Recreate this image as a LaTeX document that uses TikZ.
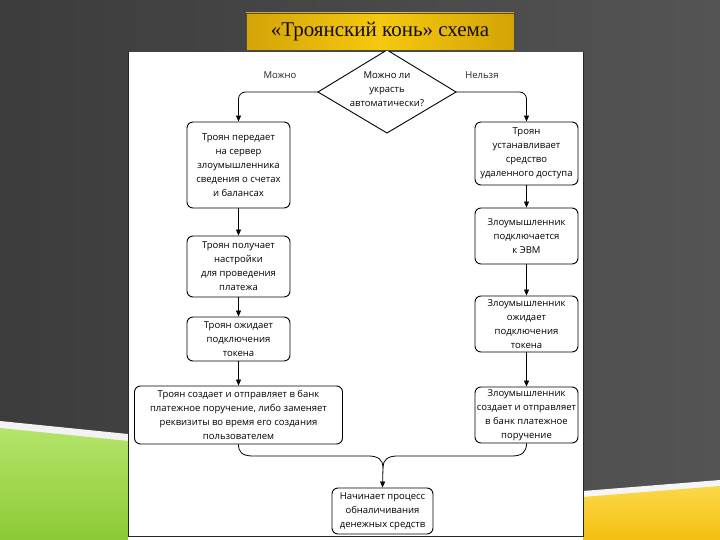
\documentclass[tikz,border=0pt]{standalone}
\usepackage{fontspec}
\setmainfont{Liberation Serif}
\newfontfamily\boxfont{Open Sans}
\usetikzlibrary{shapes.geometric,arrows.meta}
\definecolor{bgdark}{HTML}{3C3C3C}
\definecolor{bglight}{HTML}{545454}
\definecolor{gold}{HTML}{F5C90F}
\definecolor{golddark}{HTML}{D4A306}
\definecolor{greenA}{HTML}{B4E46A}
\definecolor{greenB}{HTML}{8CCB35}
\definecolor{yelA}{HTML}{FBD84A}
\definecolor{yelB}{HTML}{F4C010}
\begin{document}
\begin{tikzpicture}[x=1pt,y=-1pt,
  box/.style={draw=black, line width=0.9pt, rounded corners=6pt, fill=white, align=center,
    font=\boxfont\fontsize{9.5}{14}\selectfont, inner sep=0pt, text=black},
  lbl/.style={font=\boxfont\fontsize{9.5}{12}\selectfont, text=black!85},
  arr/.style={-{Triangle[length=6pt,width=5pt]}, line width=0.8pt},
  conn/.style={line width=0.8pt}]
\useasboundingbox (0,0) rectangle (720,540);
% background
\shade[left color=bgdark, right color=bglight] (0,0) rectangle (720,540);
% green swoosh
\fill[white!90!gray] (0,421) -- (128,434) -- (128,442) -- (0,429) -- cycle;
\shade[top color=greenA, bottom color=greenB] (0,428) -- (128,441) -- (128,540) -- (0,540) -- cycle;
% yellow swoosh
\fill[white!92!gray] (583,491) -- (720,480) -- (720,487) -- (583,498) -- cycle;
\shade[top color=yelA, bottom color=yelB] (583,497) -- (720,486) -- (720,540) -- (583,540) -- cycle;
% panel
\fill[white] (128,52) rectangle (583,540);
\draw[black!85, line width=0.7pt] (128,52) -- (128,536) -- (583,536) -- (583,52);
% decision
\coordinate (diaN) at (387,50);
\coordinate (diaW) at (318,92);
\coordinate (diaS) at (387,133);
\coordinate (diaE) at (456,92);
\draw[line width=0.9pt, fill=white] (diaN) -- (diaE) -- (diaS) -- (diaW) -- cycle;
\node[align=center, font=\boxfont\fontsize{9.5}{14}\selectfont, inner sep=0pt] (dia) at (387,89)
  {Можно ли\\украсть\\автоматически?};
\node[lbl] (yes) at (280,75) {Можно};
\node[lbl] (no) at (482,75) {Нельзя};
% left column
\node[box, minimum width=103pt, minimum height=86pt] (b1) at (238.5,165)
  {Троян передает\\на сервер\\злоумышленника\\сведения о счетах\\и балансах};
\node[box, minimum width=103pt, minimum height=61pt] (b2) at (238.5,266.5)
  {Троян получает\\настройки\\для проведения\\платежа};
\node[box, minimum width=103pt, minimum height=44pt] (b3) at (238.5,339)
  {Троян ожидает\\подключения\\токена};
\node[box, minimum width=208pt, minimum height=58pt] (b4) at (238.5,415)
  {Троян создает и отправляет в банк\\платежное поручение, либо заменяет\\реквизиты во время его создания\\пользователем};
% right column
\node[box, minimum width=103pt, minimum height=63pt] (r1) at (526.5,153.5)
  {Троян\\устанавливает\\средство\\удаленного доступа};
\node[box, minimum width=103pt, minimum height=56pt] (r2) at (526.5,236)
  {Злоумышленник\\подключается\\к ЭВМ};
\node[box, minimum width=103pt, minimum height=56pt] (r3) at (526.5,324)
  {Злоумышленник\\ожидает\\подключения\\токена};
\node[box, minimum width=103pt, minimum height=56pt] (r4) at (526.5,415)
  {Злоумышленник\\создает и отправляет\\в банк платежное\\поручение};
% final
\node[box, minimum width=101pt, minimum height=46pt] (fin) at (382.5,511)
  {Начинает процесс\\обналичивания\\денежных средств};
% connectors
\draw[arr, rounded corners=7pt] (diaW) -| (b1.north);
\draw[arr, rounded corners=7pt] (diaE) -| (r1.north);
\draw[arr] (b1.south) -- (b2.north);
\draw[arr] (b2.south) -- (b3.north);
\draw[arr] (b3.south) -- (b4.north);
\draw[arr] (r1.south) -- (r2.north);
\draw[arr] (r2.south) -- (r3.north);
\draw[arr] (r3.south) -- (r4.north);
\coordinate (bt) at (383,467);
\draw[conn] (b4.south) .. controls (238.5,452) and (242,456) .. (253,456) -- (369,456)
  .. controls (378,456) and (383,460) .. (bt)
  .. controls (383,460) and (388,456) .. (397,456) -- (512,456)
  .. controls (522,456) and (526.5,452) .. (r4.south);
\draw[arr] (bt) -- (fin.north);
% title
\shade[left color=golddark, right color=golddark, middle color=gold, draw=black!70, line width=0.6pt]
  (246,13) rectangle (514,50);
\node[font=\fontsize{21}{24}\selectfont, text=black!90!brown] (title) at (380,32) {«Троянский конь» схема};
\end{tikzpicture}
\end{document}
